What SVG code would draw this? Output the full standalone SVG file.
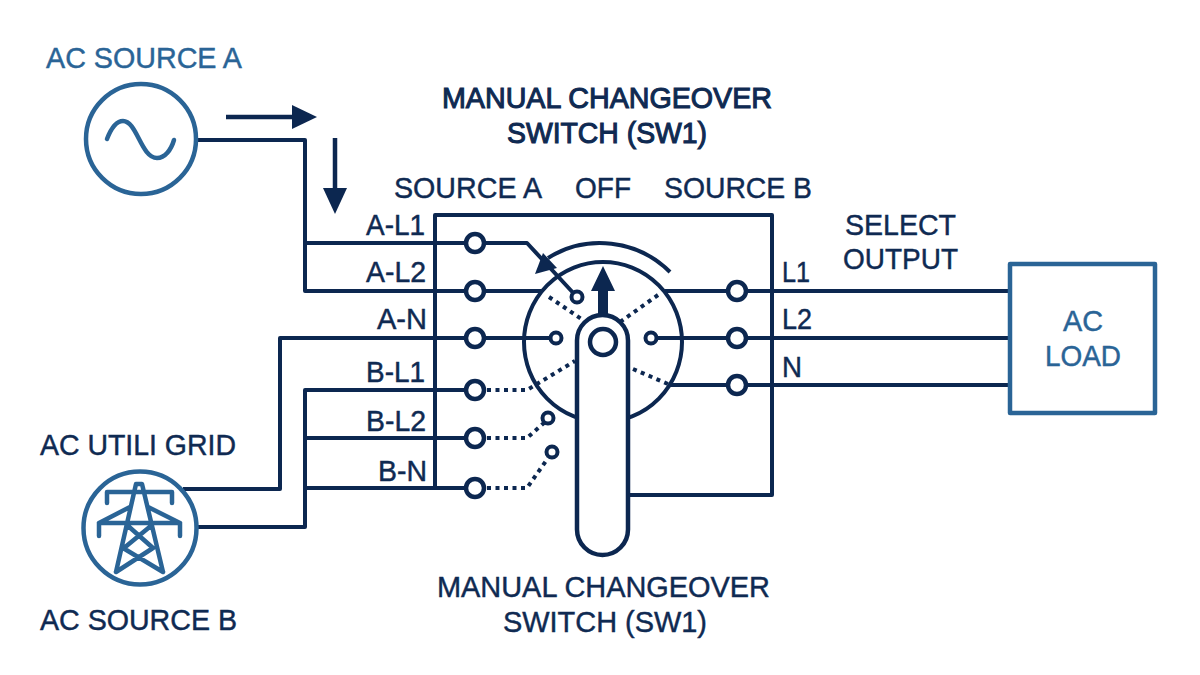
<svg xmlns="http://www.w3.org/2000/svg" width="1200" height="675" viewBox="0 0 1200 675">
<style>
text{font-family:"Liberation Sans",Arial,sans-serif;font-size:30px;fill:#0f2a52;stroke:#0f2a52;stroke-width:.45px}
.t{stroke-width:1.1px}
.b{fill:#2a6496;stroke:#2a6496}
.l{font-size:29px}
.w{fill:none;stroke:#0c2750;stroke-width:4;stroke-linejoin:round}
.f{fill:none;stroke:#0c2750;stroke-width:4.5}
.d{fill:none;stroke:#0c2750;stroke-width:4;stroke-dasharray:4 4.5}
.c{fill:#fff;stroke:#0c2750;stroke-width:4}
.h{fill:#fff;stroke:#0c2750;stroke-width:4.5}
.tm{fill:#fff;stroke:#0c2750;stroke-width:4.5}
.s{fill:#fff;stroke:#2a6496;stroke-width:4.5}
.i{fill:none;stroke:#2a6496;stroke-width:4.5;stroke-linecap:round;stroke-linejoin:round}
.a{fill:#0c2750}
</style>
<rect width="1200" height="675" fill="#fff"/>
<g id="connectors">
<path class="w" d="M197 140H305V291H541M305 243H527L577 297"/>
<path class="w" d="M183 489H280V338H555"/>
<path class="w" d="M197 527H305V390H466M305 438H466M305 488H466"/>
<path class="w" d="M628 495H772V215H435V488"/>
<path class="w" d="M665 291H1010M651 338H1010M670 385H1010"/>
<path class="d" d="M487 390H527L575 361"/>
<path class="d" d="M487 438H527L545 422"/>
<path class="d" d="M487 488H527L548 458"/>
<path class="f" d="M226 117H296M335 138V192"/>
<polygon class="a" points="317,117 292,105 292,129"/>
<polygon class="a" points="335,214 323,188 347,188"/>
</g>
<g id="switch-dial">
<ellipse cx="603" cy="342" rx="79" ry="80" class="w"/>
<path class="w" d="M548 258A99 99 0 0 1 670 272"/>
<path class="d" d="M549 297L583 320M658 295L585 347M633 369L668 384"/>
<polygon class="a" points="535,274 543,253 557,268"/>
<circle cx="577" cy="297" r="5.5" class="c"/>
<circle cx="556" cy="338" r="5.5" class="c"/>
<circle cx="651" cy="338" r="5.5" class="c"/>
<circle cx="548" cy="418" r="5.5" class="c"/>
<circle cx="552" cy="452" r="5.5" class="c"/>
</g>
<g id="terminals">
<circle cx="475" cy="243" r="9" class="tm"/>
<circle cx="475" cy="291" r="9" class="tm"/>
<circle cx="475" cy="338" r="9" class="tm"/>
<circle cx="475" cy="390" r="9" class="tm"/>
<circle cx="475" cy="438" r="9" class="tm"/>
<circle cx="475" cy="488" r="9" class="tm"/>
<circle cx="737" cy="291" r="9" class="tm"/>
<circle cx="737" cy="338" r="9" class="tm"/>
<circle cx="737" cy="385" r="9" class="tm"/>
</g>
<g id="handle">
<path class="a" d="M598 318V291H591L603 266L615 291H608V318Z"/>
<rect x="577" y="315" width="51" height="240" rx="25.5" class="h"/>
<circle cx="603" cy="342" r="13" class="h"/>
</g>
<g id="source-a">
<circle cx="141" cy="139" r="55" class="s"/>
<path class="i" d="M107 139C112 126 117 121 123 121C137 121 141 158 157 158C165 158 171 150 174 140"/>
<text class="b" x="46" y="68" textLength="196" lengthAdjust="spacingAndGlyphs">AC SOURCE A</text>
</g>
<g id="source-b">
<circle cx="140" cy="528" r="56.5" class="s"/>
<path class="i" d="M136 484H142L163 572M136 484L116 572M107 503V492H172V503M99 536V523H180V536M99 523L130 507M180 523L148 507M127 525L153 548M152 525L124 548M123 548L163 572M153 548L116 572"/>
<text x="40" y="455" textLength="196" lengthAdjust="spacingAndGlyphs">AC UTILI GRID</text>
<text x="40" y="630" textLength="197" lengthAdjust="spacingAndGlyphs">AC SOURCE B</text>
</g>
<g id="ac-load">
<rect x="1010" y="264" width="145" height="149" fill="#fff" stroke="#2a6496" stroke-width="4.5" stroke-linejoin="round"/>
<text class="b" x="1063" y="331" textLength="40" lengthAdjust="spacingAndGlyphs">AC</text>
<text class="b" x="1045" y="366" textLength="76" lengthAdjust="spacingAndGlyphs">LOAD</text>
</g>
<g id="labels">
<text class="t" x="442" y="108" textLength="330" lengthAdjust="spacingAndGlyphs">MANUAL CHANGEOVER</text>
<text class="t" x="507" y="143" textLength="200" lengthAdjust="spacingAndGlyphs">SWITCH (SW1)</text>
<text x="394" y="198" textLength="148" lengthAdjust="spacingAndGlyphs">SOURCE A</text>
<text x="575" y="198" textLength="56" lengthAdjust="spacingAndGlyphs">OFF</text>
<text x="664" y="198" textLength="148" lengthAdjust="spacingAndGlyphs">SOURCE B</text>
<text x="845" y="235" textLength="111" lengthAdjust="spacingAndGlyphs">SELECT</text>
<text x="843" y="269" textLength="115" lengthAdjust="spacingAndGlyphs">OUTPUT</text>
<text class="l" x="366" y="235" textLength="59" lengthAdjust="spacingAndGlyphs">A-L1</text>
<text class="l" x="366" y="282" textLength="60" lengthAdjust="spacingAndGlyphs">A-L2</text>
<text class="l" x="377" y="329" textLength="50" lengthAdjust="spacingAndGlyphs">A-N</text>
<text class="l" x="366" y="382" textLength="59" lengthAdjust="spacingAndGlyphs">B-L1</text>
<text class="l" x="366" y="431" textLength="60" lengthAdjust="spacingAndGlyphs">B-L2</text>
<text class="l" x="378" y="481" textLength="49" lengthAdjust="spacingAndGlyphs">B-N</text>
<text class="l" x="782" y="282" textLength="28" lengthAdjust="spacingAndGlyphs">L1</text>
<text class="l" x="782" y="329" textLength="30" lengthAdjust="spacingAndGlyphs">L2</text>
<text class="l" x="782" y="377" textLength="20" lengthAdjust="spacingAndGlyphs">N</text>
<text x="437" y="597" textLength="333" lengthAdjust="spacingAndGlyphs">MANUAL CHANGEOVER</text>
<text x="503" y="632" textLength="204" lengthAdjust="spacingAndGlyphs">SWITCH (SW1)</text>
</g>
</svg>
